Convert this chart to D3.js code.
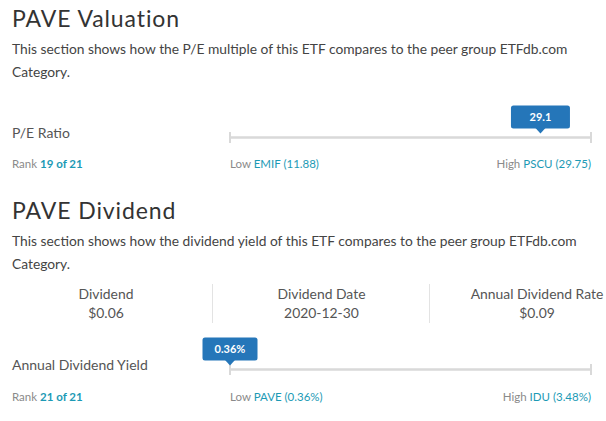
<!DOCTYPE html>
<html>
<head>
<meta charset="utf-8">
<script src="https://cdn.jsdelivr.net/npm/d3@7/dist/d3.min.js"></script>
<style>
  html, body { margin: 0; padding: 0; background: #fff; }
  svg { display: block; font-family: Lato, "Open Sans", sans-serif; }
</style>
</head>
<body>
<svg id="chart" width="606" height="421"></svg>
<script>
// ---- data ----
const sectionTitles = ["PAVE Valuation", "PAVE Dividend"];
const sectionDescriptions = [
  ["This section shows how the P/E multiple of this ETF compares to the peer group ETFdb.com", "Category."],
  ["This section shows how the dividend yield of this ETF compares to the peer group ETFdb.com", "Category."]
];
const metricLabels = ["P/E Ratio", "Annual Dividend Yield"];
const metricValueLabels = ["29.1", "0.36%"];
const markerPositions = [86, 0];           // position of the fund along the peer range (0–100)
const ranks = [19, 21];
const rankTotals = [21, 21];
const lowTickers = ["EMIF", "PAVE"];
const lowValueLabels = ["11.88", "0.36%"];
const highTickers = ["PSCU", "IDU"];
const highValueLabels = ["29.75", "3.48%"];
const dividendStatLabels = ["Dividend", "Dividend Date", "Annual Dividend Rate"];
const dividendStatValues = ["$0.06", "2020-12-30", "$0.09"];

// ---- layout ----
const svg = d3.select("#chart");
const C = { title: "#333333", text: "#444444", label: "#555555", muted: "#8a8a8a",
            link: "#1c9ab5", track: "#d9d9d9", box: "#2576b9", sep: "#e3e3e3" };

const x = d3.scaleLinear().domain([0, 100]).range([230, 591]);
const statX = d3.scalePoint().domain(dividendStatLabels).range([106, 537]);

const titleBaseline = [26.5, 219];
const trackY = [137.5, 369.5];
const rankY = [168, 401];
const labelY = [138, 370];

sectionTitles.forEach((t, i) => {
  const g = svg.append("g");
  const tb = titleBaseline[i];
  g.append("text").attr("x", 12).attr("y", tb)
    .attr("font-size", 23).attr("letter-spacing", 0.9).attr("fill", C.title).text(t);
  sectionDescriptions[i].forEach((line, j) => {
    g.append("text").attr("x", 12).attr("y", tb + 27 + j * 23)
      .attr("font-size", 13.8).attr("fill", C.text).text(line);
  });
});

// dividend stats
const stats = svg.append("g");
dividendStatLabels.forEach((lab, i) => {
  stats.append("text").attr("x", statX(lab)).attr("y", 299).attr("text-anchor", "middle")
    .attr("font-size", 13.9).attr("fill", C.label).text(lab);
  stats.append("text").attr("x", statX(lab)).attr("y", 318).attr("text-anchor", "middle")
    .attr("font-size", 13.9).attr("fill", C.label).text(dividendStatValues[i]);
});
[212.5, 429.5].forEach(sx => {
  stats.append("line").attr("x1", sx).attr("x2", sx).attr("y1", 284).attr("y2", 323)
    .attr("stroke", C.sep).attr("stroke-width", 1);
});

// metric rows
metricLabels.forEach((lab, i) => {
  const g = svg.append("g");
  const ty = trackY[i];
  g.append("text").attr("x", 12).attr("y", labelY[i]).attr("font-size", 14)
    .attr("fill", C.label).text(lab);

  // track
  g.append("line").attr("x1", x(0)).attr("x2", x(100)).attr("y1", ty).attr("y2", ty)
    .attr("stroke", C.track).attr("stroke-width", 2.5);
  [0, 100].forEach(v => {
    g.append("line").attr("x1", x(v)).attr("x2", x(v)).attr("y1", ty - 5.5).attr("y2", ty + 5.5)
      .attr("stroke", C.track).attr("stroke-width", 2);
  });

  // marker
  const mx = x(markerPositions[i]);
  const bw = i === 0 ? 59 : 55, bh = 23;
  const by = ty - 9 - bh;
  const m = g.append("g");
  m.append("rect").attr("x", mx - bw / 2).attr("y", by).attr("width", bw).attr("height", bh)
    .attr("rx", 2.5).attr("fill", C.box);
  m.append("path").attr("d", `M${mx - 5},${by + bh - 0.5} L${mx},${by + bh + 5} L${mx + 5},${by + bh - 0.5} Z`)
    .attr("fill", C.box);
  m.append("text").attr("x", mx).attr("y", by + bh / 2 + 4).attr("text-anchor", "middle")
    .attr("font-size", 11).attr("font-weight", 700).attr("fill", "#fff").text(metricValueLabels[i]);

  // rank / low / high
  const r = g.append("text").attr("x", 12).attr("y", rankY[i]).attr("font-size", 11.5);
  r.append("tspan").attr("fill", C.muted).text("Rank ");
  r.append("tspan").attr("fill", C.link).attr("font-weight", 700).text(`${ranks[i]} of ${rankTotals[i]}`);

  const lo = g.append("text").attr("x", x(0)).attr("y", rankY[i]).attr("font-size", 11.5);
  lo.append("tspan").attr("fill", C.muted).text("Low ");
  lo.append("tspan").attr("fill", C.link).text(`${lowTickers[i]} (${lowValueLabels[i]})`);

  const hi = g.append("text").attr("x", x(100)).attr("y", rankY[i]).attr("font-size", 11.5)
    .attr("text-anchor", "end");
  hi.append("tspan").attr("fill", C.muted).text("High ");
  hi.append("tspan").attr("fill", C.link).text(`${highTickers[i]} (${highValueLabels[i]})`);
});
</script>
</body>
</html>
